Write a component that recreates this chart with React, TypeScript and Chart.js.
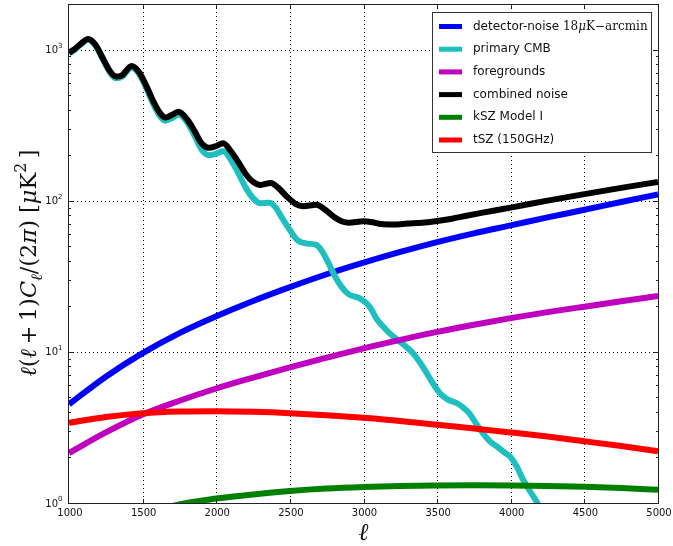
import React, { useEffect, useRef } from "react";
import { Chart, registerables } from "chart.js";

Chart.register(...registerables);

// Multipole grid for the smooth spectra
const SMOOTH_ELL = [1000, 1250, 1500, 1750, 2000, 2250, 2500, 2750, 3000, 3250, 3500, 3750, 4000, 4250, 4500, 4750, 5000];
const DETECTOR_NOISE = [4.5, 6.85, 9.8, 13.3, 17.2, 21.7, 26.8, 32.6, 38.9, 45.8, 53.2, 60.8, 68.6, 77.5, 87, 98, 110];
const FOREGROUNDS = [2.14, 2.93, 3.85, 4.75, 5.72, 6.75, 7.9, 9.15, 10.55, 12.0, 13.55, 15.1, 16.7, 18.3, 19.9, 21.6, 23.4];
const TSZ = [3.39, 3.71, 3.93, 4.03, 4.05, 4.01, 3.93, 3.81, 3.66, 3.49, 3.29, 3.11, 2.93, 2.75, 2.56, 2.38, 2.2];

const KSZ_ELL = [1500, 1750, 2000, 2250, 2500, 2750, 3000, 3250, 3500, 3750, 4000, 4250, 4500, 4750, 5000];
const KSZ = [0.84, 0.98, 1.07, 1.14, 1.2, 1.245, 1.275, 1.295, 1.305, 1.31, 1.305, 1.295, 1.28, 1.255, 1.225];

// Lensed primary CMB with its acoustic wiggles
const CMB_ELL = [1000, 1040, 1080, 1130, 1180, 1230, 1280, 1320, 1360, 1425, 1475, 1525, 1575, 1620, 1655, 1700, 1745, 1800, 1850, 1900, 1950, 2000, 2047, 2100, 2150, 2200, 2250, 2300, 2360, 2400, 2450, 2500, 2550, 2620, 2680, 2720, 2760, 2800, 2850, 2900, 2975, 3040, 3090, 3130, 3180, 3230, 3280, 3336, 3380, 3427, 3470, 3517, 3570, 3630, 3675, 3720, 3765, 3810, 3860, 3910, 3960, 3995, 4040, 4083, 4130, 4173, 4220, 4270];
const CMB = [940, 1000, 1080, 1160, 1060, 860, 700, 645, 660, 760, 690, 555, 430, 360, 338, 352, 372, 332, 272, 218, 200, 205, 212, 186, 152, 122, 104, 96, 97, 91, 76, 64, 55, 52, 51, 46, 39, 32.5, 27, 24, 22.6, 20, 16.5, 14.8, 13.2, 12, 11, 9.8, 8.6, 7.3, 6.2, 5.35, 4.85, 4.6, 4.3, 3.9, 3.35, 2.9, 2.55, 2.35, 2.15, 2.03, 1.75, 1.43, 1.2, 1.03, 0.85, 0.7];

// Total noise: CMB plus instrument, foregrounds and SZ
const COMBINED_ELL = [1000, 1040, 1080, 1130, 1180, 1230, 1280, 1320, 1360, 1425, 1475, 1525, 1575, 1620, 1655, 1700, 1745, 1800, 1850, 1900, 1950, 2000, 2047, 2100, 2150, 2200, 2250, 2300, 2370, 2420, 2477, 2540, 2590, 2680, 2740, 2800, 2860, 2900, 3000, 3060, 3120, 3200, 3300, 3400, 3500, 3600, 3700, 3800, 3900, 4000, 4250, 4500, 4750, 5000];
const COMBINED = [950, 1010, 1090, 1175, 1075, 875, 715, 662, 675, 778, 710, 575, 450, 378, 355, 370, 388, 347, 292, 240, 224, 230, 240, 212, 180, 150, 133, 127, 131, 122, 107, 95, 92, 94, 87, 78, 72.5, 71.5, 73, 72, 70, 69.5, 70.5, 71.5, 73.3, 76, 79.5, 83, 86.5, 90, 100, 110.5, 121.5, 133];

const SERIES_LABELS = ["detector-noise", "primary CMB", "foregrounds", "combined noise", "kSZ Model I", "tSZ (150GHz)"];
const SERIES_COLORS = ["#0000ff", "#1fbfbf", "#bf00bf", "#000000", "#008000", "#ff0000"];
const NOISE_LEVEL = ["18", "μ", "K−arcmin"];

const X_MIN = 1000;
const X_MAX = 5000;
const Y_MIN = 1;
const Y_MAX = 2000;
const X_TICKS = [1000, 1500, 2000, 2500, 3000, 3500, 4000, 4500, 5000];
const Y_DECADES = [0, 1, 2, 3];

const SANS = "'DejaVu Sans', sans-serif";
const SERIF = "'DejaVu Serif', serif";

function pairs(xs: number[], ys: number[]) {
  return xs.map((x, i) => ({ x, y: ys[i] }));
}

const axesPlugin = {
  id: "mplAxes",
  beforeDatasetsDraw(chart: any) {
    const { ctx, chartArea: a, scales } = chart;
    const xs = scales.x;
    const ys = scales.y;
    ctx.save();
    ctx.strokeStyle = "#000";
    ctx.lineWidth = 1;
    ctx.setLineDash([1, 3]);
    for (const t of X_TICKS) {
      if (t <= X_MIN || t >= X_MAX) continue;
      const px = Math.round(xs.getPixelForValue(t)) + 0.5;
      ctx.beginPath();
      ctx.moveTo(px, a.top);
      ctx.lineTo(px, a.bottom);
      ctx.stroke();
    }
    for (const d of Y_DECADES) {
      const v = Math.pow(10, d);
      if (v <= Y_MIN || v >= Y_MAX) continue;
      const py = Math.round(ys.getPixelForValue(v)) + 0.5;
      ctx.beginPath();
      ctx.moveTo(a.left, py);
      ctx.lineTo(a.right, py);
      ctx.stroke();
    }
    ctx.restore();
  },
  afterDatasetsDraw(chart: any) {
    const { ctx, chartArea: a, scales } = chart;
    const xs = scales.x;
    const ys = scales.y;
    ctx.save();
    ctx.setLineDash([]);
    ctx.strokeStyle = "#222";
    ctx.lineWidth = 1;

    // inward ticks on all four sides
    ctx.beginPath();
    for (const t of X_TICKS) {
      if (t <= X_MIN || t >= X_MAX) continue;
      const px = Math.round(xs.getPixelForValue(t)) + 0.5;
      ctx.moveTo(px, a.bottom);
      ctx.lineTo(px, a.bottom - 4);
      ctx.moveTo(px, a.top);
      ctx.lineTo(px, a.top + 4);
    }
    for (const d of Y_DECADES) {
      for (let k = 1; k <= 9; k++) {
        const v = k * Math.pow(10, d);
        if (v <= Y_MIN || v >= Y_MAX) continue;
        const len = k === 1 ? 4 : 2;
        const py = Math.round(ys.getPixelForValue(v)) + 0.5;
        ctx.moveTo(a.left, py);
        ctx.lineTo(a.left + len, py);
        ctx.moveTo(a.right, py);
        ctx.lineTo(a.right - len, py);
      }
    }
    ctx.stroke();

    // frame
    ctx.strokeRect(Math.round(a.left) - 0.5, Math.round(a.top) + 0.5, Math.round(a.right - a.left) + 1, Math.round(a.bottom - a.top));

    // x tick labels
    ctx.fillStyle = "#111";
    ctx.font = `10px ${SANS}`;
    ctx.textAlign = "center";
    ctx.textBaseline = "middle";
    for (const t of X_TICKS) {
      ctx.fillText(String(t), xs.getPixelForValue(t) + 1, a.bottom + 10.5);
    }

    // y tick labels: 10 with a raised exponent
    for (const d of Y_DECADES) {
      const py = ys.getPixelForValue(Math.pow(10, d));
      ctx.font = `10px ${SANS}`;
      ctx.textAlign = "right";
      ctx.textBaseline = "middle";
      ctx.fillText("10", a.left - 11, py + 1);
      ctx.font = `7px ${SANS}`;
      ctx.textAlign = "left";
      ctx.textBaseline = "alphabetic";
      ctx.fillText(String(d), a.left - 11, py - 2);
    }

    // x axis title
    ctx.font = `italic 24px ${SERIF}`;
    ctx.textAlign = "center";
    ctx.textBaseline = "alphabetic";
    ctx.fillText("ℓ", (a.left + a.right) / 2, 540);

    // y axis title, rotated
    const segs: [string, string, number, number][] = [
      ["ℓ", "italic", 1, 0],
      ["(", "normal", 1, 0],
      ["ℓ", "italic", 1, 0],
      ["\u2009+\u20091)", "normal", 1, 0],
      ["C", "italic", 1, 0],
      ["ℓ", "italic", 0.7, 0.25],
      ["/(2", "normal", 1, 0],
      ["π", "italic", 1, 0],
      [") [", "normal", 1, 0],
      ["μ", "italic", 1, 0],
      ["K", "normal", 1, 0],
      ["2", "normal", 0.7, -0.45],
      ["\u2009]", "normal", 1, 0],
    ];
    const size = 22.5;
    let total = 0;
    const widths: number[] = [];
    for (const [txt, st, sc] of segs) {
      ctx.font = `${st} ${size * sc}px ${SERIF}`;
      const w = ctx.measureText(txt).width;
      widths.push(w);
      total += w;
    }
    ctx.translate(36, 263);
    ctx.rotate(-Math.PI / 2);
    ctx.textAlign = "left";
    let cx = -total / 2;
    segs.forEach(([txt, st, sc, shift], i) => {
      ctx.font = `${st} ${size * sc}px ${SERIF}`;
      ctx.fillText(txt, cx, shift * size);
      cx += widths[i];
    });
    ctx.restore();

    // legend
    ctx.save();
    const bx = 432.5, by = 12.5, bw = 219, bh = 140;
    ctx.fillStyle = "#fff";
    ctx.fillRect(bx, by, bw, bh);
    ctx.strokeStyle = "#333";
    ctx.lineWidth = 1;
    ctx.strokeRect(bx, by, bw, bh);
    ctx.textBaseline = "middle";
    ctx.textAlign = "left";
    SERIES_LABELS.forEach((label, i) => {
      const ry = 26.5 + i * 22.7;
      ctx.strokeStyle = SERIES_COLORS[i];
      ctx.lineWidth = 5;
      ctx.beginPath();
      ctx.moveTo(439, ry);
      ctx.lineTo(462, ry);
      ctx.stroke();
      ctx.fillStyle = "#111";
      ctx.font = `12px ${SANS}`;
      let tx = 473;
      ctx.fillText(label, tx, ry);
      if (i === 0) {
        tx += ctx.measureText(label + " ").width;
        NOISE_LEVEL.forEach((part, j) => {
          ctx.font = `${j === 1 ? "italic " : ""}12px ${SERIF}`;
          ctx.fillText(part, tx, ry);
          tx += ctx.measureText(part).width;
        });
      }
    });
    ctx.restore();
  },
};

export default function App() {
  const canvasRef = useRef<HTMLCanvasElement | null>(null);

  useEffect(() => {
    const canvas = canvasRef.current;
    if (!canvas) return;
    const series = [
      pairs(SMOOTH_ELL, DETECTOR_NOISE),
      pairs(CMB_ELL, CMB),
      pairs(SMOOTH_ELL, FOREGROUNDS),
      pairs(COMBINED_ELL, COMBINED),
      pairs(KSZ_ELL, KSZ),
      pairs(SMOOTH_ELL, TSZ),
    ];
    const chart = new Chart(canvas, {
      type: "line",
      data: {
        datasets: series.map((data, i) => ({
          label: SERIES_LABELS[i],
          data,
          borderColor: SERIES_COLORS[i],
          backgroundColor: SERIES_COLORS[i],
          borderWidth: 6,
          pointRadius: 0,
          fill: false,
          cubicInterpolationMode: "monotone" as const,
          borderJoinStyle: "round" as const,
          clip: 0,
          order: series.length - i,
        })),
      },
      options: {
        animation: false,
        responsive: false,
        maintainAspectRatio: false,
        layout: { padding: { left: 69, right: 15, top: 4, bottom: 43 } },
        plugins: { legend: { display: false }, tooltip: { enabled: false } },
        events: [],
        scales: {
          x: { type: "linear", min: X_MIN, max: X_MAX, display: false },
          y: { type: "logarithmic", min: Y_MIN, max: Y_MAX, display: false },
        },
      },
      plugins: [axesPlugin],
    });
    return () => chart.destroy();
  }, []);

  return (
    <div style={{ position: "fixed", left: 0, top: 0, width: 673, height: 546, background: "#fff" }}>
      <canvas ref={canvasRef} width={673} height={546} />
    </div>
  );
}
